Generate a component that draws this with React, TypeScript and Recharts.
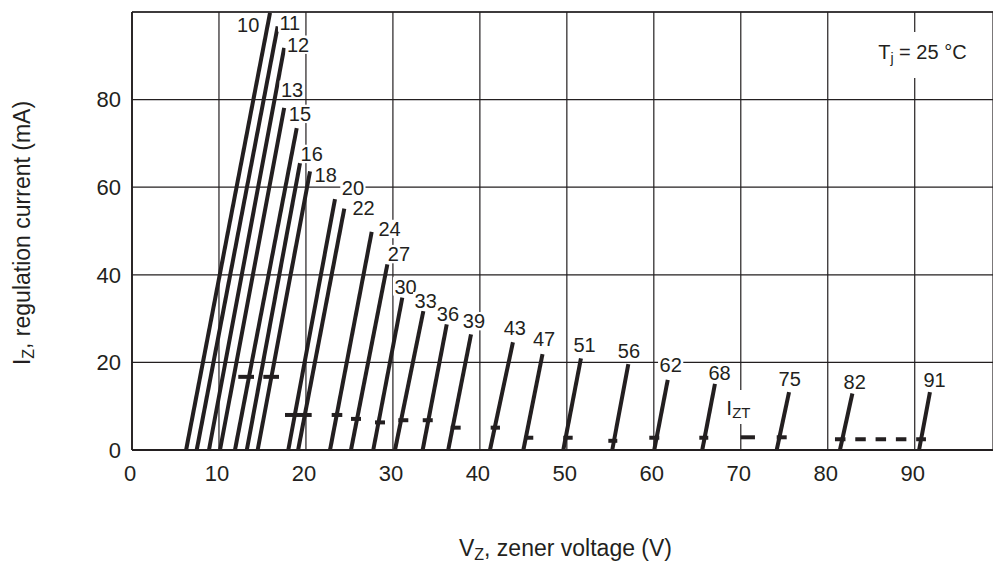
import {
  CartesianGrid,
  ComposedChart,
  Label,
  Line,
  ReferenceDot,
  ReferenceLine,
  XAxis,
  YAxis,
} from "recharts"

const INK = "#231f20"
const FONT = '"Liberation Sans", Arial, Helvetica, sans-serif'

// nominal zener voltage of each curve (also used as its tag)
const ZENER_TYPES = [10, 11, 12, 13, 15, 16, 18, 20, 22, 24, 27, 30, 33, 36, 39, 43, 47, 51, 56, 62, 68, 75, 82, 91]
// V where each curve leaves the axis (I = 0)
const V_AT_ZERO = [
  6.22, 7.44, 8.85, 10.12, 11.84, 13.2, 14.45, 17.97, 19.1, 22.77, 25.18, 27.74, 30.24, 33.42, 36.36,
  41.16, 45.0, 49.59, 55.22, 60.05, 65.57, 74.13, 81.4, 90.5,
]
// upper end of each curve
const V_AT_TOP = [
  15.87, 16.75, 17.5, 17.5, 18.94, 19.32, 20.47, 23.34, 24.41, 27.56, 29.36, 31.08, 33.5, 36.19, 38.98,
  43.8, 47.2, 51.62, 57.07, 61.6, 67.03, 75.55, 82.83, 91.75,
]
const I_AT_TOP = [
  99.8, 96.7, 91.8, 78.1, 73.5, 65.5, 63.6, 57.3, 55.1, 49.8, 42.4, 34.8, 31.7, 28.7, 26.4, 24.6, 21.9,
  20.9, 19.6, 16.0, 15.1, 13.2, 12.9, 13.2,
]

// I_ZT test current marks
const IZT_V_FROM = [12.22, 15.1, 17.59, 22.96, 25.18, 27.94, 30.62, 33.43, 36.65, 41.24, 45.07, 49.59, 54.77, 59.48, 65.23, 74.13]
const IZT_V_TO = [14.03, 16.9, 20.66, 24.18, 26.33, 29.09, 31.77, 34.58, 37.79, 42.31, 46.14, 50.67, 55.8, 60.63, 66.26, 75.28]
const IZT_CURRENT = [16.7, 16.7, 8.0, 8.0, 7.1, 6.3, 6.8, 6.8, 5.1, 5.1, 2.8, 2.8, 2.1, 2.8, 2.8, 2.9]

// "I_ZT" key mark and the dashed mark shared by 82 / 91
const KEY_V = [69.99, 71.63]
const KEY_I = 2.9
const DASH_V = [80.83, 91.29]
const DASH_I = 2.44

const X_TICKS = [0, 10, 20, 30, 40, 50, 60, 70, 80, 90]
const Y_TICKS = [0, 20, 40, 60, 80]

// tag placement relative to the top end of each curve (px): dx, dy
const TAG_OFFSETS: [number, number][] = [
  [-10.7, 19.6], [1.8, 3.3], [2.8, 4], [-3.2, -11], [-7.9, -7], [0.5, -2], [4.5, 10.7], [6.8, -4],
  [8.2, 6.7], [6.8, 4.3], [0.5, -3], [-7.8, -4], [-8.8, -2.7], [-9.9, -3.3], [-8.2, -6], [-9.2, -7],
  [-9.5, -8.3], [-7.5, -6.6], [-10.5, -6.3], [-8.2, -8.3], [-6.5, -4], [-10.5, -6.3], [-8.8, -4], [-6.5, -5],
]

const TAG_SIZE = 20

function CurveTag({ cx, cy, text, dx, dy, anchor }: any) {
  const w = text.length * 0.556 * TAG_SIZE
  const x = cx + dx
  const left = anchor === "end" ? x - w : x
  const base = cy + dy
  const cap = 0.72 * TAG_SIZE
  return (
    <g>
      <rect x={left - 1.5} y={base - cap - 2} width={w + 3} height={cap + 4} fill="#fff" />
      <text x={x} y={base} textAnchor={anchor} fontSize={TAG_SIZE} fontFamily={FONT} fill={INK}>
        {text}
      </text>
    </g>
  )
}

function TjNote({ cx, cy }: any) {
  return (
    <g>
      <rect x={cx - 43} y={cy + 20} width={103} height={46} fill="#fff" />
      <text x={cx - 36.5} y={cy + 47} fontSize={20} fontFamily={FONT} fill={INK}>
        T<tspan fontSize={14} dy={4}>j</tspan>
        <tspan dy={-4}> = 25 °C</tspan>
      </text>
    </g>
  )
}

function IztNote({ cx, cy }: any) {
  return (
    <g>
      <rect x={cx - 16.7} y={cy - 47.3} width={33} height={34} fill="#fff" />
      <text x={cx - 14.4} y={cy - 22.3} fontSize={21} fontFamily={FONT} fill={INK}>
        I<tspan fontSize={15} dy={3.5}>ZT</tspan>
      </text>
    </g>
  )
}

function XTitle(props: any) {
  const vb = props.viewBox
  return (
    <text x={vb.x + vb.width / 2 + 3} y={vb.y + 106} textAnchor="middle" fontSize={23} fontFamily={FONT} fill={INK}>
      V<tspan fontSize={16} dy={4}>Z</tspan>
      <tspan dy={-4}>, zener voltage (V)</tspan>
    </text>
  )
}

function YTitle(props: any) {
  const vb = props.viewBox
  const x = vb.x + 30
  const y = vb.y + vb.height / 2 + 2
  return (
    <text
      x={x}
      y={y}
      transform={`rotate(-90 ${x} ${y})`}
      textAnchor="middle"
      fontSize={23}
      fontFamily={FONT}
      fill={INK}
    >
      I<tspan fontSize={16} dy={4}>Z</tspan>
      <tspan dy={-4}>, regulation current (mA)</tspan>
    </text>
  )
}

export default function App() {
  return (
    <div style={{ position: "absolute", left: 0, top: 0, background: "#fff" }}>
      <ComposedChart width={993} height={565} margin={{ top: 12, right: 0, bottom: 0, left: 0 }}>
        <CartesianGrid stroke={INK} strokeWidth={1.2} strokeOpacity={1} />
        <XAxis
          type="number"
          dataKey="v"
          domain={[0, 99]}
          ticks={X_TICKS}
          height={115}
          tickSize={0}
          tickMargin={15}
          tick={{ fontSize: 22, fill: INK, fontFamily: FONT, dx: -2 }}
          axisLine={{ stroke: INK, strokeWidth: 1.8 }}
        >
          <Label content={XTitle} />
        </XAxis>
        <YAxis
          type="number"
          domain={[0, 100]}
          ticks={Y_TICKS}
          width={132}
          tickSize={0}
          tickMargin={11}
          tick={{ fontSize: 22, fill: INK, fontFamily: FONT }}
          axisLine={{ stroke: INK, strokeWidth: 1.8 }}
        >
          <Label content={YTitle} />
        </YAxis>
        <ReferenceLine y={100} stroke={INK} strokeWidth={1.5} />

        {ZENER_TYPES.map((z, k) => (
          <ReferenceDot
            key={`tag-${z}`}
            x={V_AT_TOP[k]}
            y={I_AT_TOP[k]}
            r={0}
            ifOverflow="visible"
            shape={(p: any) => (
              <CurveTag
                cx={p.cx}
                cy={p.cy}
                text={String(z)}
                dx={TAG_OFFSETS[k][0]}
                dy={TAG_OFFSETS[k][1]}
                anchor={k === 0 ? "end" : "start"}
              />
            )}
          />
        ))}
        <ReferenceDot x={90} y={100} r={0} ifOverflow="visible" shape={(p: any) => <TjNote cx={p.cx} cy={p.cy} />} />
        <ReferenceDot x={KEY_V[0]} y={KEY_I} r={0} ifOverflow="visible" shape={(p: any) => <IztNote cx={p.cx} cy={p.cy} />} />

        {ZENER_TYPES.map((z, k) => (
          <Line
            key={`curve-${z}`}
            data={[
              { v: V_AT_ZERO[k], i: 0 },
              { v: V_AT_TOP[k], i: I_AT_TOP[k] },
            ]}
            dataKey="i"
            stroke={INK}
            strokeWidth={4}
            dot={false}
            activeDot={false}
            isAnimationActive={false}
          />
        ))}
        {IZT_CURRENT.map((c, k) => (
          <Line
            key={`izt-${k}`}
            data={[
              { v: IZT_V_FROM[k], i: c },
              { v: IZT_V_TO[k], i: c },
            ]}
            dataKey="i"
            stroke={INK}
            strokeWidth={4}
            dot={false}
            activeDot={false}
            isAnimationActive={false}
          />
        ))}
        <Line
          data={[
            { v: KEY_V[0], i: KEY_I },
            { v: KEY_V[1], i: KEY_I },
          ]}
          dataKey="i"
          stroke={INK}
          strokeWidth={4}
          dot={false}
          activeDot={false}
          isAnimationActive={false}
        />
        <Line
          data={[
            { v: DASH_V[0], i: DASH_I },
            { v: DASH_V[1], i: DASH_I },
          ]}
          dataKey="i"
          stroke={INK}
          strokeWidth={4}
          strokeDasharray="10.5 9.8"
          dot={false}
          activeDot={false}
          isAnimationActive={false}
        />
      </ComposedChart>
    </div>
  )
}
